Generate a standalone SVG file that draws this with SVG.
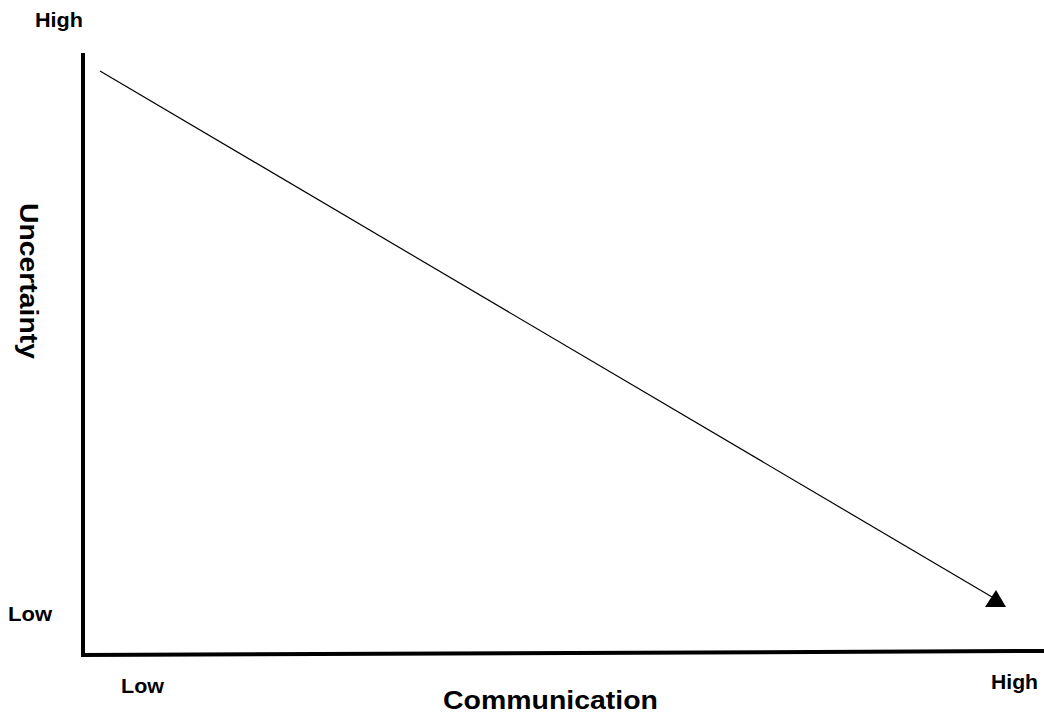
<svg xmlns="http://www.w3.org/2000/svg" width="1044" height="715" viewBox="0 0 1044 715">
  <style>
    .tick { font-family: "Liberation Sans", Arial, sans-serif; font-weight: bold; font-size: 20px; fill: #000; }
    .title { font-family: "Liberation Sans", Arial, sans-serif; font-weight: bold; font-size: 25px; fill: #000; }
    .axis { stroke: #000; stroke-width: 4; fill: none; }
    .trend { stroke: #000; stroke-width: 1.2; fill: none; }
  </style>
  <rect width="1044" height="715" fill="#fff"/>
  <g id="axes">
    <path class="axis" d="M83,53 L83,655 L1044,651"/>
  </g>
  <g id="connectors">
    <line class="trend" x1="100" y1="71" x2="992" y2="597"/>
    <polygon points="985,607 1006,607 996,590" fill="#000"/>
  </g>
  <g id="labels">
    <text class="tick" x="35" y="27" textLength="48" lengthAdjust="spacingAndGlyphs">High</text>
    <text class="tick" x="8" y="621" textLength="44" lengthAdjust="spacingAndGlyphs">Low</text>
    <text class="tick" x="121" y="693" textLength="43" lengthAdjust="spacingAndGlyphs">Low</text>
    <text class="tick" x="991" y="689" textLength="47" lengthAdjust="spacingAndGlyphs">High</text>
    <text class="title" x="443" y="709" textLength="215" lengthAdjust="spacingAndGlyphs">Communication</text>
    <text class="title" transform="translate(20,203) rotate(90)" textLength="156" lengthAdjust="spacingAndGlyphs">Uncertainty</text>
  </g>
</svg>
